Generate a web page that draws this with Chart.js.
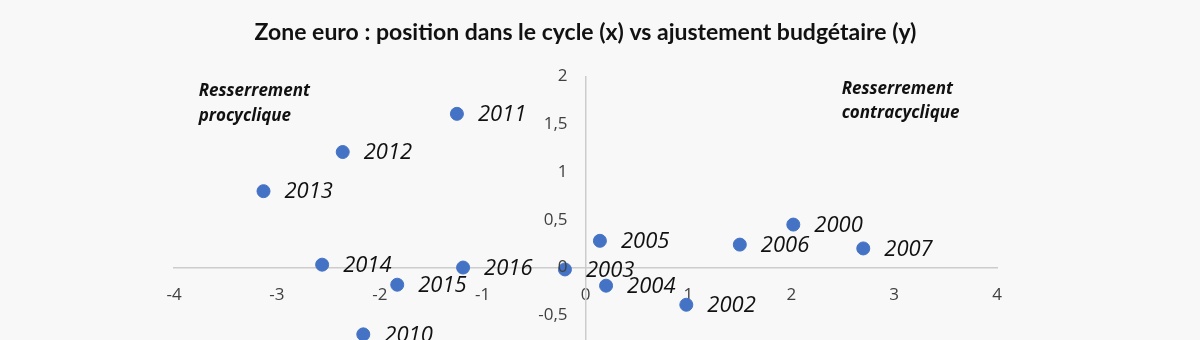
<!DOCTYPE html>
<html lang="fr">
<head>
<meta charset="utf-8">
<title>Zone euro : cycle vs ajustement budgétaire</title>
<script src="https://cdn.jsdelivr.net/npm/chart.js@4.4.1/dist/chart.umd.min.js"></script>
<style>
  html, body { margin: 0; padding: 0; background: #f8f8f8; overflow: hidden; }
  #wrap { width: 1200px; height: 380px; }
</style>
</head>
<body>
<div id="wrap"><canvas id="cycleChart" width="1200" height="380"></canvas></div>
<script>
// Données
const years = ['2000', '2002', '2003', '2004', '2005', '2006', '2007',
               '2010', '2011', '2012', '2013', '2014', '2015', '2016'];
const cyclePosition = [2.02, 0.98, -0.20, 0.20, 0.14, 1.50, 2.70,
                       -2.16, -1.25, -2.36, -3.13, -2.56, -1.83, -1.19];
const budgetAdjust = [0.45, -0.39, -0.02, -0.19, 0.28, 0.24, 0.20,
                      -0.70, 1.61, 1.21, 0.80, 0.03, -0.18, 0.00];
const xTicks = [-4, -3, -2, -1, 0, 1, 2, 3, 4];
const yTicks = [-1, -0.5, 0, 0.5, 1, 1.5, 2];

const points = years.map((y, i) => ({ x: cyclePosition[i], y: budgetAdjust[i] }));

const fr = v => String(v).replace('.', ',');
const tickFont = '17px "Open Sans"';
const tickColor = '#404040';

// Étiquettes des points (années) à droite de chaque point
const pointLabels = {
  id: 'pointLabels',
  afterDatasetsDraw(chart) {
    const ctx = chart.ctx;
    const meta = chart.getDatasetMeta(0);
    ctx.save();
    ctx.font = 'italic 22px "Open Sans"';
    ctx.fillStyle = '#111';
    ctx.textAlign = 'left';
    ctx.textBaseline = 'middle';
    meta.data.forEach((el, i) => {
      ctx.fillText(years[i], el.x + 21, el.y + 1);
    });
    ctx.restore();
  }
};

// Graduations de l'axe y, à gauche de l'axe vertical
const yTickLabels = {
  id: 'yTickLabels',
  afterDraw(chart) {
    const { ctx, scales: { x, y } } = chart;
    const x0 = x.getPixelForValue(0);
    ctx.save();
    ctx.font = tickFont;
    ctx.fillStyle = tickColor;
    ctx.textAlign = 'right';
    ctx.textBaseline = 'middle';
    y.ticks.forEach(t => {
      ctx.fillText(fr(t.value), x0 - 18, y.getPixelForValue(t.value));
    });
    ctx.restore();
  }
};

// Libellés des quadrants, placés en coordonnées du graphique
const quadrantNotes = {
  id: 'quadrantNotes',
  afterDraw(chart) {
    const { ctx, scales: { x, y } } = chart;
    ctx.save();
    ctx.font = 'italic bold 17px "Open Sans"';
    ctx.fillStyle = '#111';
    ctx.textAlign = 'left';
    ctx.textBaseline = 'middle';
    ctx.fillText('Resserrement', x.getPixelForValue(-3.76), y.getPixelForValue(1.85));
    ctx.fillText('procyclique', x.getPixelForValue(-3.76), y.getPixelForValue(1.59));
    ctx.fillText('Resserrement', x.getPixelForValue(2.49), y.getPixelForValue(1.87));
    ctx.fillText('contracyclique', x.getPixelForValue(2.49), y.getPixelForValue(1.62));
    ctx.restore();
  }
};

const ctx = document.getElementById('cycleChart').getContext('2d');
new Chart(ctx, {
  type: 'scatter',
  data: {
    datasets: [{
      label: 'Zone euro',
      data: points,
      backgroundColor: '#4472C4',
      borderColor: '#4472C4',
      pointRadius: 6.5,
      pointHoverRadius: 6.5
    }]
  },
  options: {
    responsive: false,
    animation: false,
    layout: { padding: { left: 174, right: 203, top: 0, bottom: 17 } },
    plugins: {
      legend: { display: false },
      tooltip: { enabled: false },
      title: {
        display: true,
        text: 'Zone euro : position dans le cycle (x) vs ajustement budgétaire (y)',
        color: '#111',
        font: { family: 'Lato', size: 23, weight: 'bold', lineHeight: 1.2 },
        padding: { top: 19, bottom: 30 }
      }
    },
    scales: {
      x: {
        type: 'linear',
        position: { y: 0 },
        min: xTicks[0],
        max: xTicks[xTicks.length - 1],
        afterBuildTicks: s => { s.ticks = xTicks.map(v => ({ value: v })); },
        grid: { display: false, drawTicks: false },
        border: { display: true, color: '#cccccc', width: 1.5 },
        ticks: {
          padding: 17,
          color: tickColor,
          font: { family: 'Open Sans', size: 17 },
          callback: v => fr(v)
        }
      },
      y: {
        type: 'linear',
        position: { x: 0 },
        min: yTicks[0],
        max: yTicks[yTicks.length - 1],
        afterBuildTicks: s => { s.ticks = yTicks.map(v => ({ value: v })); },
        grid: { display: false, drawTicks: false },
        border: { display: true, color: '#cccccc', width: 1.5 },
        ticks: { display: false }
      }
    }
  },
  plugins: [pointLabels, yTickLabels, quadrantNotes]
});
</script>
</body>
</html>
